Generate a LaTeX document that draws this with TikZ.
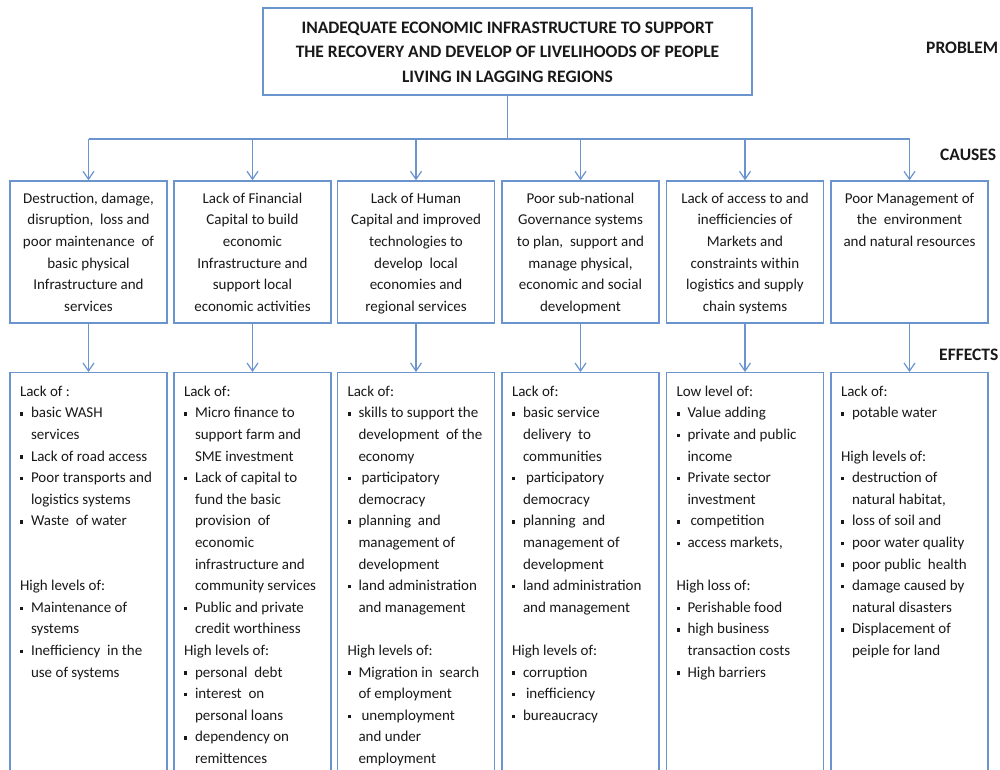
\documentclass[tikz,border=0pt]{standalone}
\usepackage{fontspec}
\setmainfont{Carlito}
\usetikzlibrary{arrows.meta}
\definecolor{bblue}{RGB}{105,148,205}
\definecolor{tgray}{RGB}{25,25,25}
\newcommand{\bu}{\makebox[11pt][l]{\raisebox{2.3pt}{\rule{3.4pt}{3.4pt}}}}
\newcommand{\bux}{\makebox[14pt][l]{\raisebox{2.3pt}{\rule{3.4pt}{3.4pt}}}}
\newcommand{\ind}{\hspace*{11pt}}
\begin{document}
\begin{tikzpicture}[x=1pt,y=-1pt,
  box/.style={draw=bblue, line width=1.4pt, fill=white, inner sep=0pt},
  ctext/.style={anchor=north, align=center, inner sep=0pt, text=tgray, font=\fontsize{15}{21.6}\selectfont},
  etext/.style={anchor=north west, align=left, inner sep=0pt, text=tgray, font=\fontsize{15}{21.6}\selectfont},
  lab/.style={font=\bfseries\fontsize{17.5}{20}\selectfont, anchor=west, inner sep=0pt, text=tgray},
  con/.style={draw=bblue, line width=1.4pt},
  arr/.style={con, -{Straight Barb[length=8pt,width=11pt,line width=1.2pt]}}]
\useasboundingbox (0,0) rectangle (1000,769);
\clip (0,0) rectangle (1000,769);
\fill[white] (0,0) rectangle (1000,769);

% problem
\node[box, minimum width=489pt, minimum height=87pt] (top) at (507.5,51.5) {};
\node[font=\bfseries\fontsize{17.5}{24.5}\selectfont, align=center, inner sep=0pt, text=tgray] (toptext) at (507.5,52)
  {INADEQUATE ECONOMIC INFRASTRUCTURE TO SUPPORT\\THE RECOVERY AND DEVELOP OF LIVELIHOODS OF PEOPLE\\LIVING IN LAGGING REGIONS};

\node[lab] (lprob) at (926,48) {PROBLEM};
\node[lab] (lcaus) at (940,155) {CAUSES};
\node[lab] (leff) at (939,355) {EFFECTS};

% causes boxes
\foreach \i/\x in {1/88.5,2/252.5,3/416,4/580.5,5/745,6/909.5}{
  \node[box, minimum width=157pt, minimum height=142pt] (c\i) at (\x,252) {};
  \node[box, anchor=north, minimum width=157pt, minimum height=430pt] (e\i) at (\x,372) {};
}

\node[ctext] (ct1) at (c1.north |- 0,188) {\strut Destruction, damage,\\disruption,\ \ loss and\\poor maintenance\ \ of\\basic\ physical\\Infrastructure and\\services};
\node[ctext] (ct2) at (c2.north |- 0,188) {\strut Lack of Financial\\Capital to build\\economic\\Infrastructure and\\support local\\economic activities};
\node[ctext] (ct3) at (c3.north |- 0,188) {\strut Lack of Human\\Capital and improved\\technologies to\\develop\ \ local\\economies and\\regional services};
\node[ctext] (ct4) at (c4.north |- 0,188) {\strut Poor sub-national\\Governance systems\\to plan,\ \ support and\\manage physical,\\economic and social\\development};
\node[ctext] (ct5) at (c5.north |- 0,188) {\strut Lack of access to and\\inefficiencies of\\Markets and\\constraints within\\logistics and supply\\chain systems};
\node[ctext] (ct6) at (c6.north |- 0,188) {\strut Poor Management of\\the\ \ environment\\and natural resources};

% connectors
\coordinate (bar) at (507.5,139);
\draw[con] (top.south) -- (bar);
\draw[con] (c1.north |- bar) -- (c6.north |- bar);
\foreach \i in {1,...,6}{
  \draw[arr] (c\i.north |- bar) -- (c\i.north);
  \draw[arr] (c\i.south) -- (e\i.north);
}

% effects text
\node[etext] (et1) at ([xshift=10.5pt]e1.north west |- 0,381) {\strut Lack of :\\
\bu basic WASH\\
\ind services\\
\bu Lack of road access\\
\bu Poor transports and\\
\ind logistics systems\\
\bu Waste\ \ of water\\
\mbox{}\\
\mbox{}\\
High levels of:\\
\bu Maintenance of\\
\ind systems\\
\bu Inefficiency\ \ in the\\
\ind use of systems};

\node[etext] (et2) at ([xshift=10.5pt]e2.north west |- 0,381) {\strut Lack of:\\
\bu Micro finance to\\
\ind support farm and\\
\ind SME investment\\
\bu Lack of capital to\\
\ind fund the basic\\
\ind provision\ \ of\\
\ind economic\\
\ind infrastructure and\\
\ind community services\\
\bu Public and private\\
\ind credit worthiness\\
High levels of:\\
\bu personal\ \ debt\\
\bu interest\ \ on\\
\ind personal loans\\
\bu dependency on\\
\ind remittences};

\node[etext] (et3) at ([xshift=10.5pt]e3.north west |- 0,381) {\strut Lack of:\\
\bu skills to support\ the\\
\ind development\ \ of the\\
\ind economy\\
\bux participatory\\
\ind democracy\\
\bu planning\ \ and\\
\ind management of\\
\ind development\\
\bu land administration\\
\ind and management\\
\mbox{}\\
High levels of:\\
\bu Migration in\ \ search\\
\ind of employment\\
\bux unemployment\\
\ind and under\\
\ind employment};

\node[etext] (et4) at ([xshift=10.5pt]e4.north west |- 0,381) {\strut Lack of:\\
\bu basic service\\
\ind delivery\ \ to\\
\ind communities\\
\bux participatory\\
\ind democracy\\
\bu planning\ \ and\\
\ind management of\\
\ind development\\
\bu land administration\\
\ind and management\\
\mbox{}\\
High levels of:\\
\bu corruption\\
\bux inefficiency\\
\bu bureaucracy};

\node[etext] (et5) at ([xshift=10.5pt]e5.north west |- 0,381) {\strut Low level of:\\
\bu Value adding\\
\bu private and public\\
\ind income\\
\bu Private sector\\
\ind investment\\
\bux competition\\
\bu access markets,\\
\mbox{}\\
High loss of:\\
\bu Perishable food\\
\bu high business\\
\ind transaction costs\\
\bu High barriers};

\node[etext] (et6) at ([xshift=10.5pt]e6.north west |- 0,381) {\strut Lack of:\\
\bu potable water\\
\mbox{}\\
High levels of:\\
\bu destruction of\\
\ind natural habitat,\\
\bu loss of soil and\\
\bu poor water quality\\
\bu poor public\ \ health\\
\bu damage caused by\\
\ind natural disasters\\
\bu Displacement of\\
\ind peiple for land};
\end{tikzpicture}
\end{document}
